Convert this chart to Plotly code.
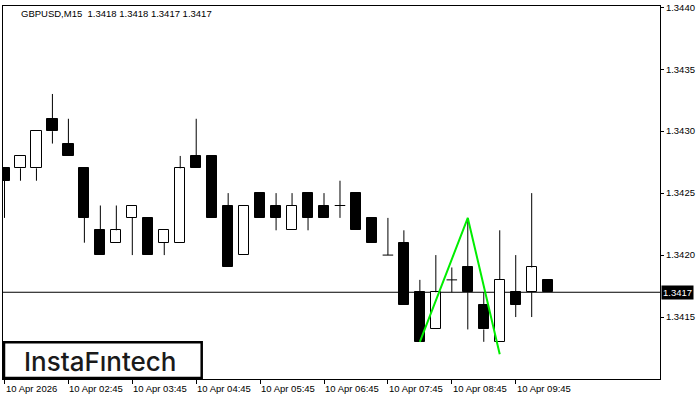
import plotly.graph_objects as go

# ---- data (GBPUSD M15) ----
opens  = [1.3427, 1.3427, 1.3427, 1.3431, 1.3429, 1.3427, 1.3422, 1.3421, 1.3423, 1.3423,
          1.3421, 1.3421, 1.3428, 1.3428, 1.3424, 1.3420, 1.3425, 1.3424, 1.3422, 1.3425,
          1.3424, 1.3424, 1.3425, 1.3423, 1.3420, 1.3421, 1.3417, 1.3414, 1.3418, 1.3419,
          1.3416, 1.3413, 1.3417, 1.3417, 1.3418]
highs  = [1.3427, 1.3428, 1.3430, 1.3433, 1.3431, 1.3427, 1.3424, 1.3424, 1.3424, 1.3423,
          1.3422, 1.3428, 1.3431, 1.3428, 1.3425, 1.3424, 1.3425, 1.3425, 1.3425, 1.3425,
          1.3425, 1.3426, 1.3425, 1.3423, 1.3423, 1.3422, 1.3418, 1.3420, 1.3419, 1.3423,
          1.3417, 1.3422, 1.3420, 1.3425, 1.3418]
lows   = [1.3423, 1.3426, 1.3426, 1.3429, 1.3428, 1.3421, 1.3420, 1.3421, 1.3420, 1.3420,
          1.3420, 1.3421, 1.3427, 1.3423, 1.3419, 1.3420, 1.3423, 1.3422, 1.3422, 1.3422,
          1.3423, 1.3423, 1.3422, 1.3421, 1.3420, 1.3416, 1.3413, 1.3414, 1.3417, 1.3414,
          1.3413, 1.3413, 1.3415, 1.3415, 1.3417]
closes = [1.3426, 1.3428, 1.3430, 1.3430, 1.3428, 1.3423, 1.3420, 1.3422, 1.3424, 1.3420,
          1.3422, 1.3427, 1.3427, 1.3423, 1.3419, 1.3424, 1.3423, 1.3423, 1.3424, 1.3423,
          1.3423, 1.3424, 1.3422, 1.3421, 1.3420, 1.3416, 1.3413, 1.3417, 1.3418, 1.3417,
          1.3414, 1.3418, 1.3416, 1.3419, 1.3417]

tick_positions = [0, 4, 8, 12, 16, 20, 24, 28, 32]
tick_labels = ["10 Apr 2026", "10 Apr 02:45", "10 Apr 03:45", "10 Apr 04:45", "10 Apr 05:45",
               "10 Apr 06:45", "10 Apr 07:45", "10 Apr 08:45", "10 Apr 09:45"]

pattern_idx = [26, 29, 31]
pattern_price = [1.3413, 1.3423, 1.3412]

symbol_title = "GBPUSD,M15\u00a0\u00a01.3418 1.3418 1.3417 1.3417"
current_price = 1.3417
y_ticks = [1.3415, 1.3420, 1.3425, 1.3430, 1.3435, 1.3440]

# ---- geometry helpers ----
W, H = 700, 400
PL, PR, PT, PB = 2, 660, 3, 379
half = 0.33

def px(X):
    return (X - PL) / (PR - PL)

def py(Y):
    return (PB - Y) / (PB - PT)

n = len(opens)
idx = list(range(n))

fig = go.Figure()

# bodies
for bull in (True, False):
    xs, bases, hs = [], [], []
    for i in idx:
        o, c = opens[i], closes[i]
        if o == c:
            continue
        if (c > o) == bull:
            xs.append(i)
            bases.append(min(o, c))
            hs.append(abs(c - o))
    fig.add_trace(go.Bar(
        x=xs, y=hs, base=bases, width=0.64,
        marker=dict(color="white" if bull else "black",
                    line=dict(color="black", width=1)),
        hoverinfo="skip", showlegend=False))

# wicks and doji
wx, wy = [], []
for i in idx:
    o, c, h, l = opens[i], closes[i], highs[i], lows[i]
    top, bot = max(o, c), min(o, c)
    if h > top:
        wx += [i, i, None]; wy += [h, top, None]
    if l < bot:
        wx += [i, i, None]; wy += [bot, l, None]
    if o == c:
        wx += [i - half, i + half, None]; wy += [o, o, None]
fig.add_trace(go.Scatter(x=wx, y=wy, mode="lines",
                         line=dict(color="black", width=1),
                         hoverinfo="skip", showlegend=False))

# pattern line
fig.add_trace(go.Scatter(x=pattern_idx, y=pattern_price, mode="lines",
                         line=dict(color="#00ee00", width=2),
                         hoverinfo="skip", showlegend=False))

# current price line
fig.add_shape(type="line", xref="paper", x0=0, x1=1, yref="y",
              y0=current_price, y1=current_price,
              line=dict(color="black", width=1), layer="below")

# watermark box
fig.add_shape(type="rect", xref="paper", yref="paper",
              x0=px(3), x1=px(201), y0=py(378), y1=py(342),
              line=dict(color="black", width=2.5), fillcolor="white", layer="above")

annotations = []
annotations.append(dict(text="InstaF\u0131ntech", xref="paper", yref="paper",
                        x=px(100), y=py(361), xanchor="center", yanchor="middle",
                        showarrow=False,
                        font=dict(family="Inter", size=26, weight=500, color="#1a1a1a")))
annotations.append(dict(text=symbol_title, xref="paper", yref="paper",
                        x=px(18), y=py(11), xanchor="left", yanchor="middle",
                        showarrow=False, font=dict(family="Liberation Sans", size=9.5, color="black")))
for pos, lab in zip(tick_positions, tick_labels):
    annotations.append(dict(text=lab, xref="x", yref="paper", x=pos, y=0,
                            xanchor="left", yanchor="top", yshift=-2, xshift=-1,
                            showarrow=False,
                            font=dict(family="Liberation Sans", size=9.5, color="black")))
annotations.append(dict(text=f"{current_price:.4f}", xref="paper", yref="y",
                        x=1, y=current_price, xanchor="left", yanchor="middle", xshift=1,
                        showarrow=False, bgcolor="black", borderpad=1,
                        font=dict(family="Liberation Sans", size=9.5, color="white")))

x0 = -(3.5 - PL) / 16
fig.update_layout(
    width=W, height=H,
    margin=dict(l=PL, r=W - PR, t=PT, b=H - PB, pad=0),
    paper_bgcolor="white", plot_bgcolor="white",
    barmode="overlay", bargap=0,
    showlegend=False,
    annotations=annotations,
    xaxis=dict(range=[x0, x0 + (PR - PL) / 16], showgrid=False, zeroline=False,
               tickmode="array", tickvals=tick_positions, ticktext=[""] * len(tick_positions),
               ticks="outside", ticklen=4, tickcolor="black",
               showline=True, linecolor="black", linewidth=1, mirror=True, fixedrange=True),
    yaxis=dict(range=[1.3410, 1.34401], side="right", showgrid=False, zeroline=False,
               tickmode="array", tickvals=y_ticks, ticktext=[f"{v:.4f}" for v in y_ticks],
               ticks="outside", ticklen=3, tickcolor="black", ticklabeloverflow="allow",
               tickfont=dict(family="Liberation Sans", size=9.5, color="black"),
               showline=True, linecolor="black", linewidth=1, mirror=True, fixedrange=True),
)

fig.write_html("out.html", config={"displayModeBar": False},
               post_script="document.body.style.margin='0';")
